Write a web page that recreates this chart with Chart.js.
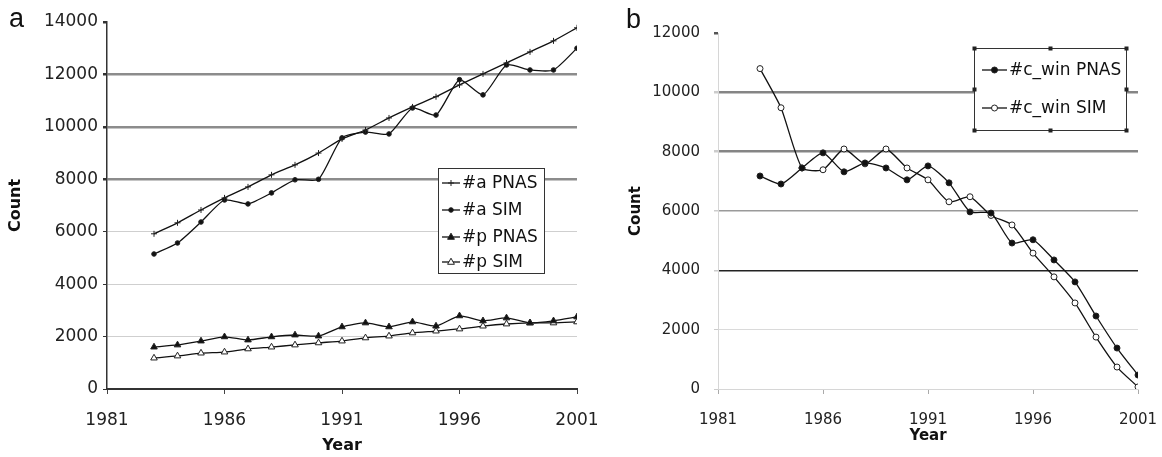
<!DOCTYPE html>
<html>
<head>
<meta charset="utf-8">
<script src="https://cdn.jsdelivr.net/npm/chart.js@4.4.1/dist/chart.umd.min.js"></script>
<style>
body { margin: 0; background: #fff; width: 1162px; height: 457px; overflow: hidden; position: relative; }
canvas { position: absolute; top: 0; }
#chartA { left: 0; }
#chartB { left: 600px; }
.panel { position: absolute; font-family: "Liberation Sans", Arial, sans-serif; font-size: 27px; color: #111; line-height: 1; }
</style>
</head>
<body>
<canvas id="chartA" width="600" height="457"></canvas>
<canvas id="chartB" width="562" height="457"></canvas>
<div class="panel" style="left:9px;top:5px">a</div>
<div class="panel" style="left:626px;top:6px">b</div>
<script>
var years = [1983, 1984, 1985, 1986, 1987, 1988, 1989, 1990, 1991, 1992, 1993, 1994, 1995, 1996, 1997, 1998, 1999, 2000, 2001]

// panel a
var aPnas = [5920, 6340, 6830, 7290, 7710, 8170, 8550, 9000, 9540, 9880, 10340, 10760, 11150, 11600, 12020, 12440, 12860, 13280, 13780]
var aSim = [5150, 5570, 6370, 7210, 7060, 7480, 7980, 8000, 9580, 9800, 9730, 10720, 10450, 11800, 11220, 12360, 12170, 12170, 13000]
var pPnas = [1600, 1680, 1830, 1990, 1870, 1990, 2060, 2020, 2370, 2520, 2370, 2560, 2400, 2790, 2600, 2710, 2520, 2600, 2750]
var pSim = [1180, 1260, 1370, 1410, 1530, 1600, 1680, 1760, 1830, 1950, 2020, 2140, 2210, 2290, 2400, 2480, 2520, 2520, 2560]

// panel b
var cwinPnas = [7180, 6910, 7450, 7960, 7320, 7620, 7450, 7050, 7520, 6950, 5970, 5930, 4920, 5030, 4350, 3610, 2460, 1380, 470]
var cwinSim = [10800, 9480, 7450, 7390, 8090, 7590, 8090, 7450, 7050, 6310, 6480, 5850, 5530, 4580, 3780, 2900, 1750, 740, 70]

var xTicks = [1981, 1986, 1991, 1996, 2001]
var yTicksA = [0, 2000, 4000, 6000, 8000, 10000, 12000, 14000]
var yTicksB = [0, 2000, 4000, 6000, 8000, 10000, 12000]

function pairs(xs, ys) {
    return xs.map(function (x, i) { return { x: x, y: ys[i] } })
}

function setTicks(list) {
    return function (scale) {
        scale.ticks = list.map(function (v) { return { value: v } })
    }
}

// fixed height for the x axis, no extra side padding for the end labels
function fitX(h) {
    return function (s) {
        s.height = h
        s.paddingLeft = 0
        s.paddingRight = 0
    }
}

// draws one marker like the chart points, used by the legend
function drawMark(ctx, ds, x, y) {
    var r = ds.pointRadius
    ctx.save()
    ctx.lineWidth = 1
    ctx.strokeStyle = ds.pointBorderColor
    ctx.fillStyle = ds.pointBackgroundColor
    ctx.beginPath()
    if (ds.pointStyle === 'circle') {
        ctx.arc(x, y, r, 0, Math.PI * 2)
        ctx.fill()
        ctx.stroke()
    } else if (ds.pointStyle === 'triangle') {
        ctx.moveTo(x, y - r)
        ctx.lineTo(x + r * 0.9, y + r * 0.6)
        ctx.lineTo(x - r * 0.9, y + r * 0.6)
        ctx.closePath()
        ctx.fill()
        ctx.stroke()
    } else {
        ctx.moveTo(x - r, y); ctx.lineTo(x + r, y)
        ctx.moveTo(x, y - r); ctx.lineTo(x, y + r)
        ctx.stroke()
    }
    ctx.restore()
}

var boxLegend = {
    id: 'boxLegend',
    afterDraw: function (chart, args, opts) {
        var ctx = chart.ctx
        ctx.save()
        ctx.fillStyle = '#fff'
        ctx.fillRect(opts.x, opts.y, opts.w, opts.h)
        ctx.strokeStyle = '#333'
        ctx.lineWidth = 1
        ctx.strokeRect(opts.x + 0.5, opts.y + 0.5, opts.w, opts.h)
        ctx.font = '17px "DejaVu Sans"'
        ctx.textBaseline = 'middle'
        ctx.fillStyle = '#111'
        chart.data.datasets.forEach(function (ds, i) {
            var y = opts.rows[i]
            ctx.beginPath()
            ctx.strokeStyle = '#111'
            ctx.lineWidth = 1.3
            ctx.moveTo(opts.sx0, y)
            ctx.lineTo(opts.sx1, y)
            ctx.stroke()
            drawMark(ctx, ds, (opts.sx0 + opts.sx1) / 2, y)
            ctx.fillStyle = '#111'
            ctx.fillText(ds.label, opts.tx, y + 1)
        })
        if (opts.handles) {
            ctx.fillStyle = '#222'
            var hx = [opts.x, opts.x + opts.w / 2, opts.x + opts.w]
            var hy = [opts.y, opts.y + opts.h / 2, opts.y + opts.h]
            hx.forEach(function (x, a) {
                hy.forEach(function (y, b) {
                    if (a === 1 && b === 1) return
                    ctx.fillRect(x - 1.5, y - 1.5, 4, 4)
                })
            })
        }
        ctx.restore()
    }
}

var lineStyle = { borderColor: '#111', borderWidth: 1.3, tension: 0.2, fill: false }

function ds(label, data, style, radius, fillCol) {
    return Object.assign({
        label: label,
        data: pairs(years, data),
        pointStyle: style,
        pointRadius: radius,
        pointBorderColor: '#222',
        pointBackgroundColor: fillCol,
        pointBorderWidth: 1
    }, lineStyle)
}

var tickFont = { family: 'DejaVu Sans', size: 17 }

var configA = {
    type: 'line',
    data: {
        datasets: [
            ds('#a PNAS', aPnas, 'cross', 3, '#222'),
            ds('#a SIM', aSim, 'circle', 2.3, '#111'),
            ds('#p PNAS', pPnas, 'triangle', 3.8, '#111'),
            ds('#p SIM', pSim, 'triangle', 3.8, '#fff')
        ]
    },
    options: {
        responsive: false,
        animation: false,
        layout: { padding: { left: 0, right: 23, top: 22, bottom: 0 } },
        scales: {
            x: {
                type: 'linear', min: 1981, max: 2001,
                afterBuildTicks: setTicks(xTicks),
                afterFit: fitX(68),
                border: { color: '#333', width: 2 },
                grid: { drawOnChartArea: false, drawTicks: true, tickLength: 5, color: '#444' },
                ticks: { font: tickFont, color: '#222', padding: 16, maxRotation: 0, callback: function (v) { return String(v) } },
                title: { display: true, text: 'Year', font: { family: 'DejaVu Sans', size: 16, weight: 'bold' }, color: '#111', padding: { top: 0, bottom: 2 } }
            },
            y: {
                min: 0, max: 14000,
                afterBuildTicks: setTicks(yTicksA),
                afterFit: function (s) { s.width = 107 },
                border: { color: '#333', width: 1.5 },
                grid: {
                    tickLength: 4,
                    tickColor: '#333',
                    color: function (c) {
                        var v = c.tick.value
                        if (v === 14000) return 'rgba(0,0,0,0)'
                        if (v >= 8000) return '#8c8c8c'
                        return '#cfcfcf'
                    },
                    lineWidth: function (c) { return c.tick.value >= 8000 ? 2.5 : 1 }
                },
                ticks: { font: tickFont, color: '#222', padding: 5, callback: function (v) { return String(v) } },
                title: { display: true, text: 'Count', font: { family: 'DejaVu Sans', size: 16, weight: 'bold' }, color: '#111', padding: { top: 6, bottom: 0 } }
            }
        },
        plugins: {
            legend: { display: false },
            tooltip: { enabled: false },
            boxLegend: { x: 438, y: 168, w: 106, h: 105, rows: [183, 210, 237, 262], sx0: 442, sx1: 460, tx: 462, handles: false }
        }
    },
    plugins: [boxLegend]
}

var tickFontB = { family: 'DejaVu Sans', size: 15 }

var configB = {
    type: 'line',
    data: {
        datasets: [
            ds('#c_win PNAS', cwinPnas, 'circle', 3, '#111'),
            ds('#c_win SIM', cwinSim, 'circle', 3, '#fff')
        ]
    },
    options: {
        responsive: false,
        animation: false,
        layout: { padding: { left: 0, right: 24, top: 33, bottom: 0 } },
        scales: {
            x: {
                type: 'linear', min: 1981, max: 2001,
                afterBuildTicks: setTicks(xTicks),
                afterFit: fitX(68),
                border: { color: '#d6d6d6', width: 1 },
                grid: { drawOnChartArea: false, drawTicks: true, tickLength: 5, color: '#aaa' },
                ticks: { font: tickFontB, color: '#222', padding: 17, maxRotation: 0, callback: function (v) { return String(v) } },
                title: { display: true, text: 'Year', font: { family: 'DejaVu Sans', size: 15, weight: 'bold' }, color: '#111', padding: { top: 0, bottom: 12 } }
            },
            y: {
                min: 0, max: 12000,
                afterBuildTicks: setTicks(yTicksB),
                afterFit: function (s) { s.width = 118 },
                border: { color: '#d6d6d6', width: 1 },
                grid: {
                    tickLength: 4,
                    tickColor: function (c) { return c.tick.value === 12000 ? '#555' : '#ccc' },
                    color: function (c) {
                        var v = c.tick.value
                        if (v === 12000) return 'rgba(0,0,0,0)'
                        if (v >= 8000) return '#858585'
                        if (v === 6000) return '#9a9a9a'
                        if (v === 4000) return '#222'
                        return '#dadada'
                    },
                    lineWidth: function (c) {
                        var v = c.tick.value
                        if (v >= 8000) return 2.5
                        if (v >= 4000) return 1.5
                        return 1
                    }
                },
                ticks: { font: tickFontB, color: '#222', padding: 14, callback: function (v) { return String(v) } },
                title: { display: true, text: 'Count', font: { family: 'DejaVu Sans', size: 15, weight: 'bold' }, color: '#111', padding: { top: 27, bottom: 0 } }
            }
        },
        plugins: {
            legend: { display: false },
            tooltip: { enabled: false },
            boxLegend: { x: 374, y: 48, w: 152, h: 82, rows: [70, 108], sx0: 382, sx1: 407, tx: 409, handles: true }
        }
    },
    plugins: [boxLegend]
}

var chartA = new Chart(document.getElementById('chartA'), configA)
var chartB = new Chart(document.getElementById('chartB'), configB)
</script>
</body>
</html>
